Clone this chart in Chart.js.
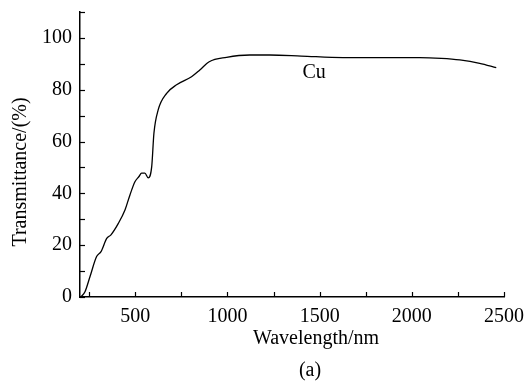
<!DOCTYPE html>
<html>
<head>
<meta charset="utf-8">
<script src="https://cdn.jsdelivr.net/npm/chart.js@4/dist/chart.umd.min.js"></script>
<style>
  html, body { margin: 0; padding: 0; background: #fff; }
  #wrap { width: 529px; height: 381px; }
</style>
</head>
<body>
<div id="wrap"><canvas id="grafico" width="529" height="381"></canvas></div>
<script>
// Curva de transmitância do Cu
const comprimentos = [205, 227, 254, 290, 314, 345, 368, 408, 444, 471, 498, 520, 534, 552, 570, 589, 601, 624, 670, 724, 805, 850, 901, 995, 1121, 1230, 1400, 1627, 1850, 2043, 2160, 2260, 2368, 2458];
const transmitancia = [0, 2, 7.8, 15.6, 17.5, 22.6, 24, 28.4, 33.6, 39.4, 44.5, 46.5, 47.8, 47.8, 46, 50.3, 63.2, 72.2, 78.6, 81.9, 85, 87.6, 90.8, 92.5, 93.4, 93.4, 93.0, 92.4, 92.4, 92.4, 92.1, 91.5, 90.2, 88.5];
const rotuloSerie = 'Cu';

const fonte = "'Liberation Serif', 'Times New Roman', serif";

// ticks para dentro + textos dos eixos
const extras = {
  id: 'extras',
  afterDraw(chart) {
    const ctx = chart.ctx;
    const x = chart.scales.x, y = chart.scales.y;
    ctx.save();
    ctx.strokeStyle = '#000';
    ctx.lineWidth = 1.2;
    x.ticks.forEach(t => {
      const px = Math.round(x.getPixelForValue(t.value)) + 0.5;
      ctx.beginPath();
      ctx.moveTo(px, y.bottom);
      ctx.lineTo(px, y.bottom - 5);
      ctx.stroke();
    });
    y.ticks.forEach(t => {
      const py = Math.round(y.getPixelForValue(t.value)) + 0.5;
      ctx.beginPath();
      ctx.moveTo(x.left, py);
      ctx.lineTo(x.left + 5, py);
      ctx.stroke();
    });
    ctx.fillStyle = '#000';
    ctx.font = '20px ' + fonte;
    ctx.textAlign = 'center';
    ctx.textBaseline = 'middle';
    ctx.fillText(rotuloSerie, x.getPixelForValue(1470), y.getPixelForValue(86.5));
    ctx.fillText('Wavelength/nm', 316, 339);
    ctx.fillText('(a)', 310, 371);
    ctx.translate(21, 172);
    ctx.rotate(-Math.PI / 2);
    ctx.fillText('Transmittance/(%)', 0, 0);
    ctx.restore();
  }
};

new Chart(document.getElementById('grafico').getContext('2d'), {
  type: 'line',
  data: {
    datasets: [{
      label: rotuloSerie,
      data: comprimentos.map((c, i) => ({ x: c, y: transmitancia[i] })),
      borderColor: '#000',
      borderWidth: 1.3,
      pointRadius: 0,
      fill: false,
      cubicInterpolationMode: 'monotone'
    }]
  },
  options: {
    responsive: false,
    animation: false,
    layout: { padding: { left: 0, top: 12, right: 25, bottom: 0 } },
    plugins: { legend: { display: false }, tooltip: { enabled: false } },
    scales: {
      x: {
        type: 'linear',
        min: 200,
        max: 2500,
        afterFit: s => { s.height = 84; s.paddingLeft = 0; s.paddingRight = 0; },
        afterBuildTicks: s => {
          s.ticks = [];
          for (let v = 250; v <= 2500; v += 250) s.ticks.push({ value: v });
        },
        grid: { display: false, drawTicks: false },
        border: { color: '#000', width: 1.5 },
        ticks: {
          color: '#000',
          padding: 8,
          maxRotation: 0,
          autoSkip: false,
          font: { family: fonte, size: 20 },
          callback: v => (v % 500 === 0 ? v : '')
        }
      },
      y: {
        min: 0,
        max: 110,
        afterFit: s => { s.width = 80; s.paddingTop = 0; s.paddingBottom = 0; },
        grid: { display: false, drawTicks: false },
        border: { color: '#000', width: 1.5 },
        ticks: {
          color: '#000',
          padding: 8,
          stepSize: 10,
          autoSkip: false,
          font: { family: fonte, size: 20 },
          callback: v => (v % 20 === 0 ? v : '')
        }
      }
    }
  },
  plugins: [extras]
});
</script>
</body>
</html>
